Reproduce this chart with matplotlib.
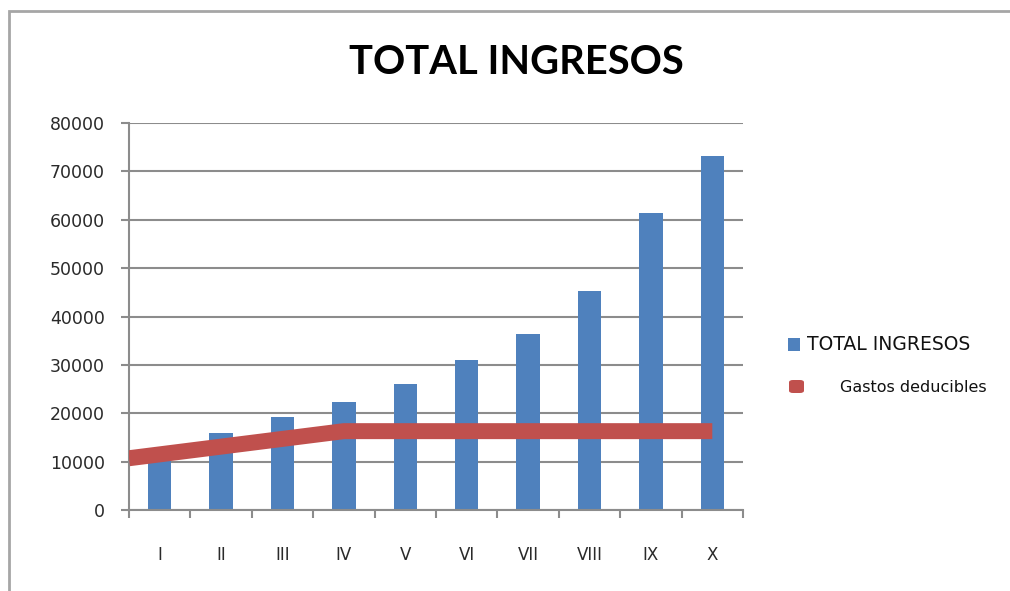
import matplotlib
matplotlib.use("Agg")
import matplotlib.pyplot as plt
from matplotlib.patches import Rectangle, FancyBboxPatch
import numpy as np

categorias = ["I", "II", "III", "IV", "V", "VI", "VII", "VIII", "IX", "X"]
total_ingresos = [10200, 15900, 19200, 22300, 26000, 31000, 36400, 45200, 61300, 73100]
gastos_deducibles = [11500, 13100, 14700, 16300, 16300, 16300, 16300, 16300, 16300, 16300]
gastos_inicio = 10700  # value where the line enters at the left edge of the plot
y_ticks = [0, 10000, 20000, 30000, 40000, 50000, 60000, 70000, 80000]

blue = "#4F81BD"
red = "#C0504D"
grid_c = "#8C8C8C"

fig = plt.figure(figsize=(10.10, 5.91), dpi=100)
ax = fig.add_axes([129/1010, 1-510/591, (743-129)/1010, (510-123)/591])

x = np.arange(len(categorias))
ax.bar(x, total_ingresos, width=0.38, color=blue, zorder=2)

lx = np.concatenate([[-0.5], x])
ly = np.concatenate([[gastos_inicio], gastos_deducibles])
ax.plot(lx, ly, color=red, lw=11.5, solid_capstyle="butt", solid_joinstyle="miter", zorder=3)

ax.set_xlim(-0.5, len(categorias)-0.5)
ax.set_ylim(0, 80000)
ax.set_yticks(y_ticks)
ax.set_yticklabels([str(v) for v in y_ticks])
ax.yaxis.grid(True, color=grid_c, lw=1.5, zorder=0)
ax.set_axisbelow(True)

ax.set_xticks(x)
ax.set_xticklabels(categorias)
ax.set_xticks(np.arange(-0.5, len(categorias)), minor=True)
ax.tick_params(axis="x", which="major", length=0, pad=26, labelsize=12, labelcolor="#2a2a2a")
ax.tick_params(axis="x", which="minor", length=5.8, width=1.5, color=grid_c, direction="out")
ax.tick_params(axis="y", length=5.8, width=1.5, color=grid_c, pad=11.5, labelsize=12.5, labelcolor="#2a2a2a")
for s in ["top", "right"]:
    ax.spines[s].set_visible(False)
for s in ["left", "bottom"]:
    ax.spines[s].set_color(grid_c)
    ax.spines[s].set_linewidth(1.5)

fig.text(516/1010, 1-62/591, "TOTAL INGRESOS", ha="center", va="center",
         fontsize=28.7, fontweight="bold", family="Lato")

# border
fig.patches.append(Rectangle((9/1010, -0.1), 1.2, 1-11/591+0.1, transform=fig.transFigure,
                             fill=False, edgecolor="#A6A6A6", lw=2))

# legend
fig.patches.append(Rectangle((788/1010, 1-351/591), 12/1010, 13/591, transform=fig.transFigure,
                             facecolor=blue, edgecolor="none"))
fig.text(807/1010, 1-345/591, "TOTAL INGRESOS", ha="left", va="center", fontsize=13.5, color="#111111")
fig.patches.append(FancyBboxPatch((789/1010, 1-393/591), 15/1010, 13/591, transform=fig.transFigure,
                                  boxstyle="round,pad=0,rounding_size=0.004", facecolor=red, edgecolor="none"))
fig.text(840/1010, 1-387/591, "Gastos deducibles", ha="left", va="center", fontsize=11.5, color="#111111")

fig.savefig("out.png", dpi=100)
